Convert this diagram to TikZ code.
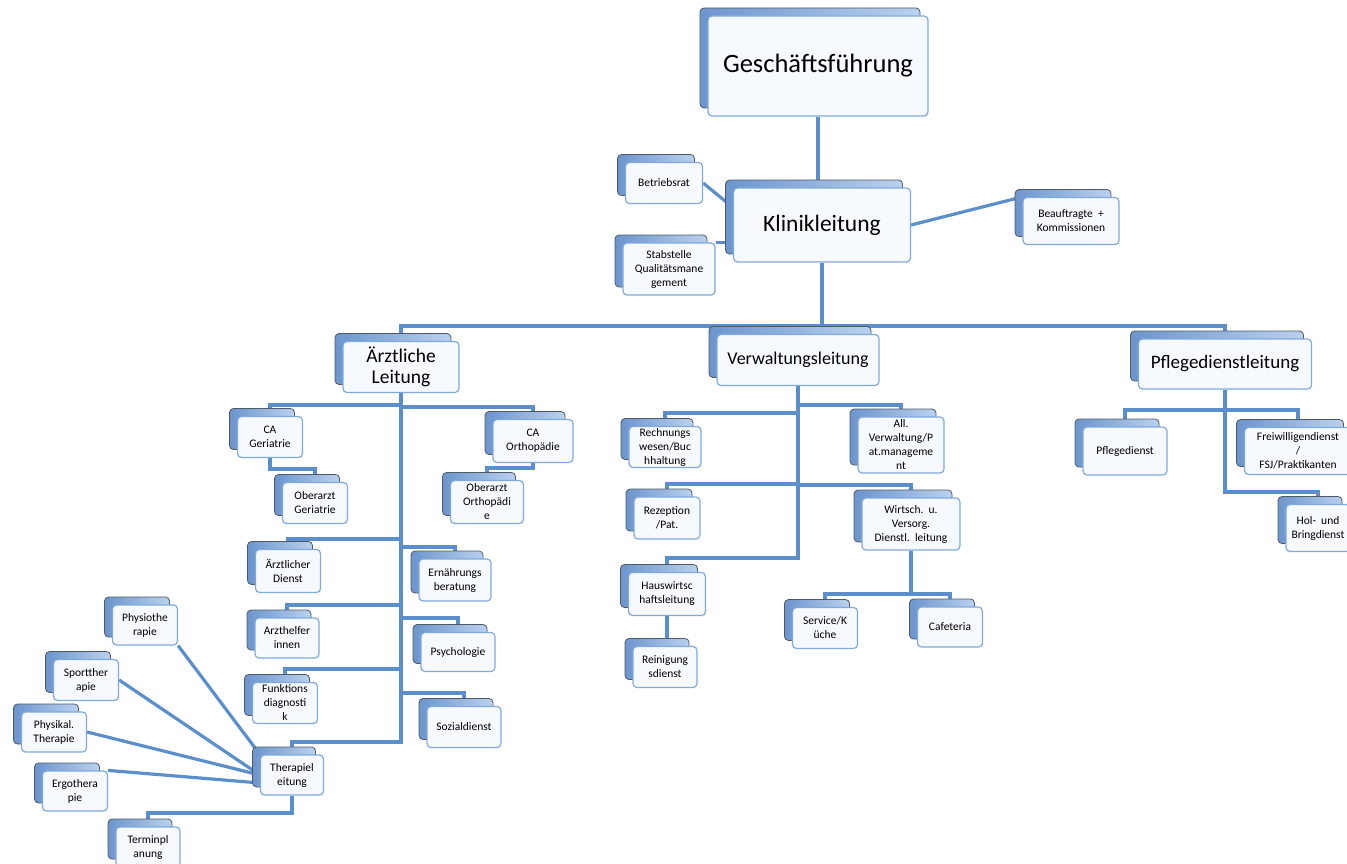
\documentclass[tikz,border=0pt]{standalone}
\usepackage{fontspec}
\setmainfont{Carlito}
\usetikzlibrary{shadows,backgrounds}
\definecolor{linkblue}{HTML}{5B8FCB}
\definecolor{frameblue}{HTML}{7FAADF}
\definecolor{frontfill}{HTML}{F6F9FD}
\definecolor{backdark}{HTML}{6C95CD}
\definecolor{backlight}{HTML}{BAD1EE}
\definecolor{backedge}{HTML}{505A66}
\tikzset{
  unit/.style  = {shape=rectangle, rounded corners=4pt, align=center,
                  draw=frameblue, line width=1.2pt, fill=frontfill,
                  inner sep=0pt, minimum width=65pt, minimum height=41pt,
                  font=\fontsize{11.5}{14}\selectfont,
                  copy shadow={shadow xshift=-8pt, shadow yshift=8pt, opacity=1,
                               draw=backedge, line width=0.8pt,
                               left color=backdark, right color=backlight}},
  head/.style  = {unit, font=\fontsize{19.5}{21}\selectfont},
  top/.style   = {unit, font=\fontsize{26.5}{30}\selectfont},
  link/.style  = {draw=linkblue, line width=3.2pt}
}
\begin{document}
\begin{tikzpicture}[x=1pt, y=-1pt]
  \useasboundingbox (0,0) rectangle (1347,864);

  % top of the clinic
  \node[top]  (gf) at (818,66)  [minimum width=220, minimum height=100] {Geschäftsführung};
  \node[unit] (kl) at (822,225) [minimum width=177, minimum height=74,
                                 font=\fontsize{23.5}{26}\selectfont] {Klinikleitung};
  \node[unit] (br) at (664,183) [minimum width=77] {Betriebsrat};
  \node[unit] (sq) at (669,269) [minimum width=92, minimum height=52] {Stabstelle\\Qualitätsmane\\gement};
  \node[unit] (bk) at (1071,221) [minimum width=96, minimum height=47] {Beauftragte\ \ +\\Kommissionen};

  % second level
  \node[head] (al)  at (401,367)  [minimum width=116, minimum height=51] {Ärztliche\\Leitung};
  \node[head] (vl)  at (798,360)  [minimum width=162, minimum height=51,
                                   font=\fontsize{18}{20}\selectfont] {Verwaltungsleitung};
  \node[head] (pdl) at (1225,364) [minimum width=173, minimum height=50,
                                   font=\fontsize{19}{21}\selectfont] {Pflegedienstleitung};

  % Ärztliche Leitung
  \node[unit] (cag) at (270,437) {CA\\Geriatrie};
  \node[unit] (cao) at (533,441) [minimum width=80, minimum height=43] {CA\\Orthopädie};
  \node[unit] (oag) at (315,503) {Oberarzt\\Geriatrie};
  \node[unit] (oao) at (487,502) [minimum width=73, minimum height=43] {Oberarzt\\Orthopädi\\e};
  \node[unit] (ad)  at (288,571) [minimum height=43] {Ärztlicher\\Dienst};
  \node[unit] (eb)  at (455,580) [minimum width=72, minimum height=42] {Ernährungs\\beratung};
  \node[unit] (ah)  at (287,638) [minimum width=64, minimum height=40] {Arzthelfer\\innen};
  \node[unit] (ps)  at (458,652) [minimum width=74, minimum height=39] {Psychologie};
  \node[unit] (fdg) at (285,703) {Funktions\\diagnosti\\k};
  \node[unit] (sd)  at (464,727) [minimum width=74] {Sozialdienst};
  \node[unit] (thl) at (292,775) [minimum width=63, minimum height=40] {Therapiel\\eitung};
  \node[unit] (pt)  at (145,625) [minimum height=40] {Physiothe\\rapie};
  \node[unit] (spt) at (86,680)  {Sportther\\apie};
  \node[unit] (pht) at (54,732)  [minimum height=40] {Physikal.\\Therapie};
  \node[unit] (et)  at (75,791)  [minimum height=40] {Ergothera\\pie};
  \node[unit] (tp)  at (148,847) [minimum width=64, minimum height=40] {Terminpl\\anung};

  % Verwaltungsleitung
  \node[unit] (rw) at (665,447) [minimum width=72] {Rechnungs\\wesen/Buc\\hhaltung};
  \node[unit] (av) at (901,445) [minimum width=86, minimum height=56] {All.\\Verwaltung/P\\at.manageme\\nt};
  \node[unit] (rz) at (667,518) [minimum width=66, minimum height=42] {Rezeption\\/Pat.};
  \node[unit] (wv) at (911,524) [minimum width=98, minimum height=52] {Wirtsch.\ \ u.\\Versorg.\\Dienstl.\ \ leitung};
  \node[unit] (hw) at (667,594) [minimum width=77, minimum height=43] {Hauswirtsc\\haftsleitung};
  \node[unit] (rd) at (665,667) [minimum width=64] {Reinigung\\sdienst};
  \node[unit] (sk) at (825,628) {Service/K\\üche};
  \node[unit] (cf) at (950,627) [minimum height=40] {Cafeteria};

  % Pflegedienstleitung
  \node[unit] (pd) at (1125,451) [minimum width=84, minimum height=48] {Pflegedienst};
  \node[unit] (fw) at (1298,451) [minimum width=107, minimum height=47] {Freiwilligendienst\\/\\FSJ/Praktikanten};
  \node[unit] (hb) at (1318,528) [minimum width=64, minimum height=47] {Hol-\ \ und\\Bringdienst};

  \begin{scope}[on background layer]
    \draw[link] (gf) -- (gf |- kl);
    \draw[link] (br.east) -- ([yshift=-20]kl.north west);
    \draw[link] (sq.north east) -- (sq.north east -| kl.west);
    \draw[link] (kl.east) -- (bk.north west);
    \draw[link] (kl) -- (kl |- 0,326);
    \draw[link] (al) |- (kl |- 0,326) -| (pdl);
    \draw[link] (vl) -- (vl |- 0,326);

    \draw[link] (al) -- (al |- 0,742) -| (thl);
    \draw[link] (al |- 0,405) -| (cag);
    \draw[link] (al |- 0,407) -| (cao);
    \draw[link] (cag) -- (cag |- 0,469) -| (oag);
    \draw[link] (cao) -- (cao |- 0,468) -| (oao);
    \draw[link] (al |- 0,539) -| (ad);
    \draw[link] (al |- 0,547) -| (eb);
    \draw[link] (al |- 0,605) -| (ah);
    \draw[link] (al |- 0,618) -| (ps);
    \draw[link] (al |- 0,669) -| (fdg);
    \draw[link] (al |- 0,693) -| (sd);
    \draw[link] (pt.south east) -- (thl.north west);
    \draw[link] (spt.east) -- (thl.west);
    \draw[link] (pht.east) -- (thl.west);
    \draw[link] (et.north east) -- ([yshift=-8]thl.west);
    \draw[link] (thl) -- (thl |- 0,813) -| (tp);

    \draw[link] (vl) -- (vl |- 0,558) -| (hw);
    \draw[link] (vl |- 0,413) -| (rw);
    \draw[link] (vl |- 0,405) -| (av);
    \draw[link] (vl |- 0,484) -| (rz);
    \draw[link] (vl |- 0,485) -| (wv);
    \draw[link] (hw) -- (hw |- rd);
    \draw[link] (wv) -- (wv |- 0,594) -| (sk);
    \draw[link] (wv |- 0,594) -| (cf);

    \draw[link] (pdl) -- (pdl |- 0,492) -| (hb);
    \draw[link] (pdl |- 0,410) -| (pd);
    \draw[link] (pdl |- 0,410) -| (fw);
  \end{scope}
\end{tikzpicture}
\end{document}
